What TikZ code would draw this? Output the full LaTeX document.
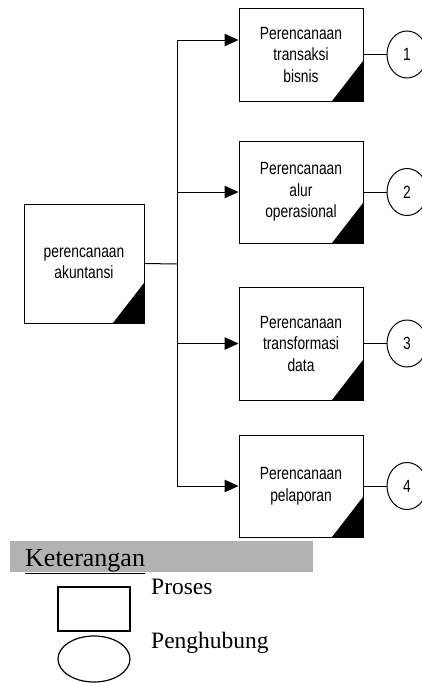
\documentclass[tikz,border=0pt]{standalone}
\usepackage{fontspec}
\setmainfont{Liberation Serif}
\newfontfamily\hurufkotak[FakeStretch=0.78]{Liberation Sans}
\usepackage{xcolor}
\usepackage{tikz}
\usetikzlibrary{arrows.meta}
\usetikzlibrary{positioning}
\usetikzlibrary{shapes.geometric}
\tikzstyle{proses} = [rectangle, draw=black, line width=1pt, minimum width=124, text width=118, align=center, inner sep=0pt, font=\hurufkotak\fontsize{17.7}{21.5}\selectfont, path picture={\fill[black] (path picture bounding box.south east) -- ++(-31pt,0pt) -- ++(31pt,40pt) -- cycle;}]
\tikzstyle{hubung} = [ellipse, draw=black, line width=1pt, minimum width=40, minimum height=47, inner sep=0pt, font=\hurufkotak\fontsize{17.7}{21.5}\selectfont]
\tikzstyle{garis} = [line width=1pt]
\tikzstyle{arrow} = [line width=1pt, -{Triangle[length=14pt,width=12.5pt]}]
\tikzstyle{ket} = [anchor=base west, inner sep=0pt, font=\fontsize{23.5}{26}\selectfont]

\begin{document}
\begin{tikzpicture}[x=1pt, y=-1pt]
    \useasboundingbox (0,0) rectangle (421,683);

    \node(utama)[proses, minimum width=120, minimum height=119] at (84,263.5){perencanaan\\akuntansi};
    \node(p1)[proses, minimum height=93] at (301,54.5){Perencanaan\\transaksi\\bisnis};
    \node(p2)[proses, minimum height=102] at (301,192){Perencanaan\\alur\\operasional};
    \node(p3)[proses, minimum height=113] at (301,343.5){Perencanaan\\transformasi\\data};
    \node(p4)[proses, minimum height=102] at (301,486){Perencanaan\\pelaporan};

    \node(k1)[hubung, right=23pt of p1]{1};
    \node(k2)[hubung, right=23pt of p2]{2};
    \node(k3)[hubung, right=23pt of p3]{3};
    \node(k4)[hubung, right=23pt of p4]{4};

    \coordinate(cabang) at (177,264);
    \draw[garis](utama.east)--(cabang);
    \draw[arrow](cabang)|-([yshift=14.5pt]p1.west);
    \draw[arrow](cabang)|-(p2.west);
    \draw[arrow](cabang)|-(p3.west);
    \draw[arrow](cabang)|-(p4.west);

    \draw[garis](p1.east)--(k1);
    \draw[garis](p2.east)--(k2);
    \draw[garis](p3.east)--(k3);
    \draw[garis](p4.east)--(k4);

    % keterangan
    \fill[black!30] (10,541) rectangle (313,572);
    \node(judul)[ket, font=\fontsize{26}{28}\selectfont] at (25,566){\underline{Keterangan}};
    \node(kotak)[rectangle, draw=black, line width=1.2pt, minimum width=72, minimum height=44] at (94,609){};
    \node(oval)[ellipse, draw=black, line width=1.2pt, minimum width=72, minimum height=46] at (94,659){};
    \node(tproses)[ket] at (151,594){Proses};
    \node(thubung)[ket] at (151,648){Penghubung};
\end{tikzpicture}
\end{document}
